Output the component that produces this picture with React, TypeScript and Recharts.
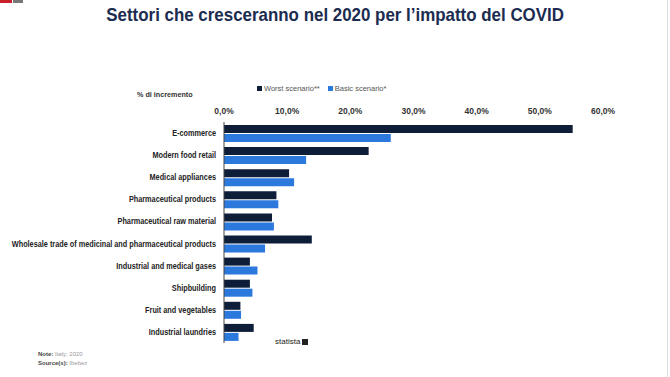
import React from 'react';
import { BarChart, Bar, XAxis, YAxis, Legend } from 'recharts';

const categories = [
  'E-commerce',
  'Modern food retail',
  'Medical appliances',
  'Pharmaceutical products',
  'Pharmaceutical raw material',
  'Wholesale trade of medicinal and pharmaceutical products',
  'Industrial and medical gases',
  'Shipbuilding',
  'Fruit and vegetables',
  'Industrial laundries',
];

const worstScenario = [55.2, 22.9, 10.3, 8.3, 7.6, 13.9, 4.1, 4.1, 2.6, 4.7];
const basicScenario = [26.4, 13.0, 11.1, 8.6, 7.9, 6.5, 5.3, 4.5, 2.7, 2.3];

const xTicks = [0, 10, 20, 30, 40, 50, 60];

const data = categories.map((name, i) => ({
  name,
  worst: worstScenario[i],
  basic: basicScenario[i],
}));

const NAVY = '#0e1d38';
const BLUE = '#2c79de';
const font = '"Liberation Sans", Arial, sans-serif';
const legendOrder = ['worst', 'basic'];

const fmt = (v: number) => `${v.toFixed(1).replace('.', ',')}%`;

const LegendContent = ({ payload }: any) => {
  const items = [...(payload || [])].sort(
    (a: any, b: any) => legendOrder.indexOf(a.dataKey) - legendOrder.indexOf(b.dataKey)
  );
  return (
    <div style={{ display: 'flex', gap: 8, fontFamily: font, fontSize: 7.5, color: '#555', height: 9 }}>
      {items.map((p: any) => (
        <span key={p.value} style={{ display: 'flex', alignItems: 'center' }}>
          <span style={{ width: 5, height: 5, background: p.color, marginRight: 2, display: 'inline-block' }} />
          {p.value}
        </span>
      ))}
    </div>
  );
};

const CategoryTick = ({ x, y, payload }: any) => (
  <g transform={`translate(${x},${y}) scale(0.86,1)`}>
    <text x={0} y={0} dy={3} textAnchor="end" fontSize={8.5} fontWeight="bold" fill="#222" fontFamily={font}>
      {payload.value}
    </text>
  </g>
);

const App: React.FC = () => {
  return (
    <div style={{ position: 'absolute', left: 0, top: 0, width: 670, height: 377, background: '#fff', overflow: 'hidden' }}>
      <div style={{ position: 'absolute', left: 0, top: 0, width: 12, height: 3, background: '#c8202a' }} />
      <div style={{ position: 'absolute', left: 13, top: 0, width: 10, height: 3, background: '#777' }} />
      <div style={{ position: 'absolute', right: 2, top: 0, width: 1, height: 377, background: '#ddd' }} />
      <div style={{ position: 'absolute', left: 0, width: 670, top: 4, textAlign: 'center' }}>
        <span
          style={{
            display: 'inline-block',
            transform: 'scaleX(0.89)',
            fontFamily: font,
            fontWeight: 'bold',
            fontSize: 19,
            color: '#1b2c50',
            whiteSpace: 'nowrap',
          }}
        >
          Settori che cresceranno nel 2020 per l’impatto del COVID
        </span>
      </div>
      <div
        style={{
          position: 'absolute',
          left: 137,
          top: 90,
          fontFamily: font,
          fontWeight: 'bold',
          fontSize: 8,
          color: '#333',
          transform: 'scaleX(0.9)',
          transformOrigin: 'left',
        }}
      >
        % di incremento
      </div>
      <BarChart
        width={670}
        height={377}
        data={data}
        layout="vertical"
        margin={{ top: 93, right: 67, left: 0, bottom: 34 }}
        barSize={8}
        barGap={1}
      >
        <XAxis
          type="number"
          orientation="top"
          domain={[0, 60]}
          ticks={xTicks}
          tickFormatter={fmt}
          axisLine={false}
          tickLine={false}
          height={20}
          tick={{ fontSize: 8.5, fontWeight: 'bold', fill: '#333', fontFamily: font }}
        />
        <YAxis
          type="category"
          dataKey="name"
          width={224}
          interval={0}
          tickLine={false}
          axisLine={{ stroke: '#444' }}
          tick={<CategoryTick />}
        />
        <Legend
          verticalAlign="top"
          content={<LegendContent />}
          wrapperStyle={{ position: 'absolute', top: 84, left: 257, width: 200 }}
        />
        <Bar dataKey="worst" name="Worst scenario**" fill={NAVY} isAnimationActive={false} />
        <Bar dataKey="basic" name="Basic scenario*" fill={BLUE} isAnimationActive={false} />
      </BarChart>
      <div
        style={{
          position: 'absolute',
          left: 275,
          top: 337,
          fontFamily: font,
          fontSize: 8,
          color: '#222',
          display: 'flex',
          alignItems: 'center',
        }}
      >
        statista
        <span style={{ width: 6, height: 6, background: '#222', marginLeft: 2, display: 'inline-block' }} />
      </div>
      <div style={{ position: 'absolute', left: 38, top: 350, fontFamily: font, fontSize: 6, color: '#999', lineHeight: '9px' }}>
        <div>
          <b style={{ color: '#444' }}>Note:</b> Italy; 2020
        </div>
        <div>
          <b style={{ color: '#444' }}>Source(s):</b> Ibebez
        </div>
      </div>
    </div>
  );
};

export default App;
